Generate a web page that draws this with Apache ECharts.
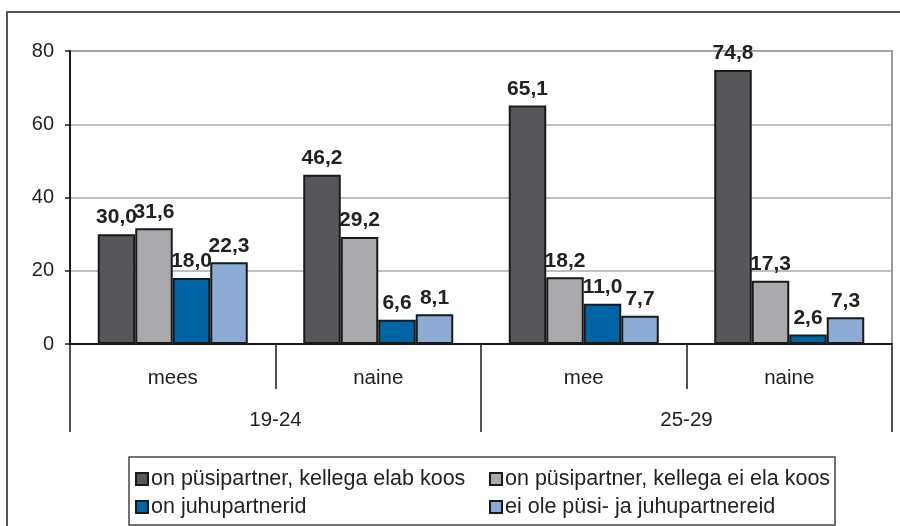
<!DOCTYPE html>
<html>
<head>
<meta charset="utf-8">
<script src="https://cdn.jsdelivr.net/npm/echarts@6/dist/echarts.min.js"></script>
<style>
  html, body { margin: 0; padding: 0; background: #fff; }
  #chart { width: 900px; height: 526px; }
</style>
</head>
<body>
<div id="chart"></div>
<script>
// Categories (two-level axis)
const subCategories = ['mees', 'naine', 'mee', 'naine'];
const ageGroups = ['19-24', '25-29'];

// Series names
const seriesNames = [
  'on püsipartner, kellega elab koos',
  'on püsipartner, kellega ei ela koos',
  'on juhupartnerid',
  'ei ole püsi- ja juhupartnereid',
];

// Values per series
const livesWith = [30.0, 46.2, 65.1, 74.8];
const notLivesWith = [31.6, 29.2, 18.2, 17.3];
const casualPartners = [18.0, 6.6, 11.0, 2.6];
const noPartners = [22.3, 8.1, 7.7, 7.3];

// Y ticks
const yTicks = [0, 20, 40, 60, 80];

const colors = ['#56575b', '#a8a9ac', '#0065a5', '#8aabd3'];
const font = 'Liberation Sans, Arial, sans-serif';

const chart = echarts.init(document.getElementById('chart'));

const values = [livesWith, notLivesWith, casualPartners, noPartners];

const series = values.map((data, i) => ({
  name: seriesNames[i],
  type: 'bar',
  xAxisIndex: 0,
  data,
  barGap: 0,
  barCategoryGap: '27%',
  itemStyle: {
    color: colors[i],
    borderColor: '#1a1a1a',
    borderWidth: 2,
  },
  label: {
    show: true,
    position: 'top',
    distance: 6,
    fontFamily: font,
    fontSize: 21,
    fontWeight: 'bold',
    color: '#222',
    formatter: (p) => p.value.toFixed(1).replace('.', ','),
  },
}));

// legend slots: [left, top] for each series, two columns
const legendPos = [[135, 468], [489, 468], [135, 496], [489, 496]];
const legends = seriesNames.map((name, i) => ({
  left: legendPos[i][0],
  top: legendPos[i][1],
  data: [name],
  padding: 0,
  itemWidth: 12,
  itemHeight: 12,
  icon: 'rect',
  itemStyle: { borderColor: '#1a1a1a', borderWidth: 2 },
  textStyle: { fontFamily: font, fontSize: 21.5, color: '#222', padding: [0, 0, 0, -2] },
  selectedMode: false,
}));

chart.setOption({
  animation: false,
  backgroundColor: '#fff',
  grid: {
    left: 70,
    right: 8,
    top: 51,
    bottom: 182,
    show: true,
    borderColor: '#999',
    borderWidth: 2,
  },
  graphic: [
    {
      type: 'rect',
      shape: { x: 7, y: 12, width: 910, height: 530 },
      style: { fill: 'none', stroke: '#555', lineWidth: 2 },
    },
    {
      type: 'rect',
      shape: { x: 129, y: 457, width: 706, height: 68 },
      style: { fill: 'none', stroke: '#444', lineWidth: 1.5 },
    },
  ],
  legend: legends,
  xAxis: [
    {
      type: 'category',
      data: subCategories,
      position: 'bottom',
      axisLine: { show: true, lineStyle: { color: '#1a1a1a', width: 2 } },
      axisTick: { show: true, length: 45, interval: 0, lineStyle: { color: '#1a1a1a', width: 1.5 } },
      axisLabel: { margin: 24, fontFamily: font, fontSize: 20.5, color: '#222', interval: 0 },
      splitLine: { show: false },
    },
    {
      type: 'category',
      data: ageGroups,
      position: 'bottom',
      axisLine: { show: false },
      axisTick: { show: true, length: 88, interval: 0, lineStyle: { color: '#1a1a1a', width: 1.5 } },
      axisLabel: { margin: 66, fontFamily: font, fontSize: 20.5, color: '#222', interval: 0 },
      splitLine: { show: false },
    },
  ],
  yAxis: {
    type: 'value',
    min: yTicks[0],
    max: yTicks[yTicks.length - 1],
    interval: yTicks[1] - yTicks[0],
    axisLine: { show: true, lineStyle: { color: '#1a1a1a', width: 2 } },
    axisTick: { show: true, length: 5, lineStyle: { color: '#1a1a1a', width: 1.5 } },
    axisLabel: { margin: 16, fontFamily: font, fontSize: 20, color: '#222' },
    splitLine: { show: true, lineStyle: { color: '#aaa', width: 1.5 } },
  },
  series,
});
</script>
</body>
</html>
